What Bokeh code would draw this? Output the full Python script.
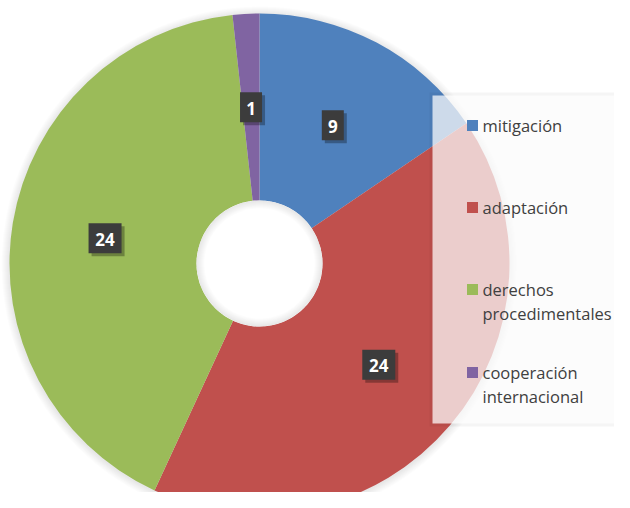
import numpy as np
from bokeh.plotting import figure
from bokeh.models import Range1d, ColumnDataSource
from bokeh.embed import file_html
from bokeh.resources import INLINE
from bokeh.core.properties import value

# ---- data ----
categories = ["mitigación", "adaptación", "derechos procedimentales", "cooperación internacional"]
legend_labels = ["mitigación", "adaptación", "derechos\nprocedimentales", "cooperación\ninternacional"]
values = [9, 24, 24, 1]
colors = ["#4F81BD", "#C0504D", "#9BBB59", "#8064A2"]

# ---- layout (pixel-like data units, y negative downward) ----
CX, CY = 259, -263
R_OUT, R_IN = 250, 63
FONT = value("Open Sans")

total = float(sum(values))
cum = np.cumsum([0] + values)
start = np.pi / 2 - 2 * np.pi * cum[:-1] / total
end = np.pi / 2 - 2 * np.pi * cum[1:] / total
mid = (start + end) / 2
r_lab = (R_OUT + R_IN) / 2
lx = CX + r_lab * np.cos(mid)
ly = CY + r_lab * np.sin(mid)
labels = [str(v) for v in values]
box_w = [11 + 11 * len(s) for s in labels]

p = figure(width=614, height=492, x_range=Range1d(0, 614), y_range=Range1d(-492, 0),
           output_backend="svg", toolbar_location=None, min_border=0,
           x_axis_location=None, y_axis_location=None)
p.grid.visible = False
p.outline_line_color = None
p.background_fill_color = "white"
p.border_fill_color = "white"

# soft outer shadow
for k in range(1, 9):
    p.circle(x=[CX], y=[CY - 1], radius=R_OUT + k, fill_color="black", fill_alpha=0.012, line_color=None)

src = ColumnDataSource(dict(cat=categories, val=values, color=colors, start=start, end=end))
p.annular_wedge(x=CX, y=CY, inner_radius=R_IN, outer_radius=R_OUT, start_angle="start", end_angle="end",
                direction="clock", fill_color="color", line_color=None, source=src)

# white hole with inner shading
p.circle(x=[CX], y=[CY], radius=R_IN, fill_color="white", line_color=None)
for k in range(1, 9):
    p.annulus(x=[CX], y=[CY], inner_radius=R_IN - k, outer_radius=R_IN, fill_color="black",
              fill_alpha=0.013, line_color=None)

# data labels
p.rect(x=lx + 3, y=ly - 3, width=box_w, height=30, fill_color="black", fill_alpha=0.3, line_color=None)
p.rect(x=lx, y=ly, width=box_w, height=30, fill_color="#3C3C3C", line_color=None)
p.text(x=lx, y=ly - 1, text=labels, text_color="white", text_font=FONT, text_font_style="bold",
       text_font_size="17px", text_align="center", text_baseline="middle")

# legend (semi-transparent overlay box)
p.quad(left=429, right=640, top=-92, bottom=-426, fill_color="black", fill_alpha=0.04, line_color=None)
p.quad(left=432, right=640, top=-95, bottom=-423, fill_color="white", fill_alpha=0.72, line_color=None)
leg_y = [-125, -207, -289, -372]
p.rect(x=[472] * 4, y=leg_y, width=11, height=11, fill_color=colors, line_color=None)
tx, ty, tt = [], [], []
for yy, lab in zip(leg_y, legend_labels):
    for i, line in enumerate(lab.split("\n")):
        tx.append(482)
        ty.append(yy - 24 * i)
        tt.append(line)
p.text(x=tx, y=ty, text=tt, text_color="#404040", text_font=FONT, text_font_size="16.5px",
       text_align="left", text_baseline="middle")

open("out.html", "w").write(file_html(p, INLINE))
